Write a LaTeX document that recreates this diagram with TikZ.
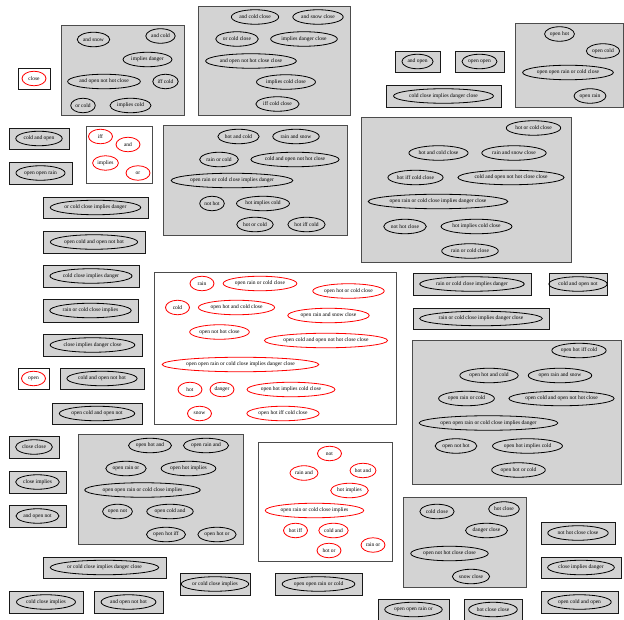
\documentclass[tikz,border=0pt]{standalone}
\usepackage{fontspec}
\setmainfont{Liberation Serif}
\usetikzlibrary{shapes.geometric}
\definecolor{clgray}{HTML}{D3D3D3}

\begin{document}
\begin{tikzpicture}[x=1pt, y=-1pt, font=\fontsize{5.5}{6}\selectfont,
  grp/.style={draw=black!70, fill=clgray, line width=0.9pt},
  wgrp/.style={draw=black!70, fill=white, line width=0.9pt},
  one/.style={draw=black!90, fill=clgray, line width=0.9pt},
  wone/.style={draw=black!90, fill=white, line width=0.9pt},
  nd/.style={ellipse, draw=black, line width=0.8pt, inner xsep=1pt, inner ysep=2pt, minimum height=14.5pt, minimum width=24pt},
  rnd/.style={nd, draw=red}]
\useasboundingbox (0,0) rectangle (624,620);

% clusters
\draw[grp] (61,25) rectangle (184,115);
\node[nd] (a1) at (93.5,39.5) {and snow};
\node[nd] (a2) at (160.5,36) {and cold};
\node[nd] (a3) at (147.5,59.5) {implies danger};
\node[nd] (a4) at (104,81.5) {and open not hot close};
\node[nd] (a5) at (165.5,81.5) {iff cold};
\node[nd] (a6) at (83,105.5) {or cold};
\node[nd] (a7) at (130.5,105.5) {implies cold};

\draw[grp] (198,6) rectangle (350,115);
\node[nd] (b1) at (255,17) {and cold close};
\node[nd] (b2) at (318,17) {and snow close};
\node[nd] (b3) at (237,39) {or cold close};
\node[nd] (b4) at (304,39) {implies danger close};
\node[nd] (b5) at (251,61) {and open not hot close close};
\node[nd] (b6) at (286,82) {implies cold close};
\node[nd] (b7) at (277.5,104) {iff cold close};

\draw[grp] (515,23) rectangle (623,107);
\node[nd] (c1) at (559.5,34) {open hot};
\node[nd] (c2) at (603,51) {open cold};
\node[nd] (c3) at (568,72.5) {open open rain or cold close};
\node[nd] (c4) at (590,96) {open rain};

\draw[wgrp] (86,126) rectangle (152,183);
\node[rnd] (d1) at (100.5,136.5) {iff};
\node[rnd] (d2) at (128,144.5) {and};
\node[rnd] (d3) at (105.5,163) {implies};
\node[rnd] (d4) at (138,173) {or};

\draw[grp] (163,125) rectangle (347,235);
\node[nd] (e1) at (238.5,136.5) {hot and cold};
\node[nd] (e2) at (296,136.5) {rain and snow};
\node[nd] (e3) at (219,159.5) {rain or cold};
\node[nd] (e4) at (295,159.5) {cold and open not hot close};
\node[nd] (e5) at (232,180.5) {open rain or cold close implies danger};
\node[nd] (e6) at (212,203.5) {not hot};
\node[nd] (e7) at (263,203.5) {hot implies cold};
\node[nd] (e8) at (255,224.5) {hot or cold};
\node[nd] (e9) at (306.5,224.5) {hot iff cold};

\draw[grp] (361,117) rectangle (571,262);
\node[nd] (f1) at (533.5,128) {hot or cold close};
\node[nd] (f2) at (438.5,153) {hot and cold close};
\node[nd] (f3) at (514,153) {rain and snow close};
\node[nd] (f4) at (415.5,177.5) {hot iff cold close};
\node[nd] (f5) at (511,177.5) {cold and open not hot close close};
\node[nd] (f6) at (438,201.5) {open rain or cold close implies danger close};
\node[nd] (f7) at (405,226.5) {not hot close};
\node[nd] (f8) at (476.5,226.5) {hot implies cold close};
\node[nd] (f9) at (470,251) {rain or cold close};

\draw[wgrp] (154,272) rectangle (396,424);
\node[rnd] (g1) at (202,283.5) {rain};
\node[rnd] (g2) at (260,283.5) {open rain or cold close};
\node[rnd] (g3) at (348.5,291) {open hot or cold close};
\node[rnd] (g4) at (177.5,307.5) {cold};
\node[rnd] (g5) at (236.5,307.5) {open hot and cold close};
\node[rnd] (g6) at (328.5,315.5) {open rain and snow close};
\node[rnd] (g7) at (219.5,332) {open not hot close};
\node[rnd] (g8) at (326,340.5) {open cold and open not hot close close};
\node[rnd] (g9) at (240.5,364.5) {open open rain or cold close implies danger close};
\node[rnd] (g10) at (190,389.5) {hot};
\node[rnd] (g11) at (222,389.5) {danger};
\node[rnd] (g12) at (291,389.5) {open hot implies cold close};
\node[rnd] (g13) at (199.5,413.5) {snow};
\node[rnd] (g14) at (283,413.5) {open hot iff cold close};

\draw[grp] (412,340) rectangle (621,484);
\node[nd] (h1) at (579,350.5) {open hot iff cold};
\node[nd] (h2) at (489,375.5) {open hot and cold};
\node[nd] (h3) at (560,375.5) {open rain and snow};
\node[nd] (h4) at (466.5,398.5) {open rain or cold};
\node[nd] (h5) at (561.5,398.5) {open cold and open not hot close};
\node[nd] (h6) at (488.5,423) {open open rain or cold close implies danger};
\node[nd] (h7) at (456,446) {open not hot};
\node[nd] (h8) at (527.5,446) {open hot implies cold};
\node[nd] (h9) at (518.5,470) {open hot or cold};

\draw[grp] (78,434) rectangle (243,544);
\node[nd] (k1) at (150,445.5) {open hot and};
\node[nd] (k2) at (206,445.5) {open rain and};
\node[nd] (k3) at (126,468.5) {open rain or};
\node[nd] (k4) at (188.5,468.5) {open hot implies};
\node[nd] (k5) at (142.5,490) {open open rain or cold close implies};
\node[nd] (k6) at (117.5,511.5) {open not};
\node[nd] (k7) at (170,511.5) {open cold and};
\node[nd] (k8) at (166,534.5) {open hot iff};
\node[nd] (k9) at (217,534.5) {open hot or};

\draw[wgrp] (258,442) rectangle (392,561);
\node[rnd] (m1) at (329.5,453.5) {not};
\node[rnd] (m2) at (304,473) {rain and};
\node[rnd] (m3) at (363,470.5) {hot and};
\node[rnd] (m4) at (349.5,490.5) {hot implies};
\node[rnd] (m5) at (314.5,510.5) {open rain or cold close implies};
\node[rnd] (m6) at (295.5,530.5) {hot iff};
\node[rnd] (m7) at (333.5,530.5) {cold and};
\node[rnd] (m8) at (329,550.5) {hot or};
\node[rnd] (m9) at (373,545) {rain or};

\draw[grp] (403,497) rectangle (526,587);
\node[nd] (p1) at (437,511.5) {cold close};
\node[nd] (p2) at (504,509) {hot close};
\node[nd] (p3) at (486.5,530.5) {danger close};
\node[nd] (p4) at (449.5,553.5) {open not hot close close};
\node[nd] (p5) at (471,576.5) {snow close};

% single boxes
\draw[wone] (18,68) rectangle (50,89);
\node[rnd] (s1) at (34,78.5) {close};
\draw[wone] (18,368) rectangle (49,389);
\node[rnd] (s2) at (33.5,378.5) {open};

\draw[one] (9,128) rectangle (69,149);
\node[nd] (t1) at (39,138.5) {cold and open};
\draw[one] (9,162) rectangle (72,184);
\node[nd] (t2) at (40.5,173) {open open rain};
\draw[one] (43,197) rectangle (148,218);
\node[nd] (t3) at (95.5,207.5) {or cold close implies danger};
\draw[one] (43,231) rectangle (145,253);
\node[nd] (t4) at (94,242) {open cold and open not hot};
\draw[one] (43,265) rectangle (139,287);
\node[nd] (t5) at (91,276) {cold close implies danger};
\draw[one] (43,299) rectangle (138,322);
\node[nd] (t6) at (90.5,310.5) {rain or cold close implies};
\draw[one] (43,334) rectangle (142,356);
\node[nd] (t7) at (92.5,345) {close implies danger close};
\draw[one] (60,368) rectangle (144,389);
\node[nd] (t8) at (102,378.5) {cold and open not hot};
\draw[one] (52,403) rectangle (142,424);
\node[nd] (t9) at (97,413.5) {open cold and open not};
\draw[one] (9,436) rectangle (59,458);
\node[nd] (t10) at (34,447) {close close};
\draw[one] (9,471) rectangle (66,493);
\node[nd] (t11) at (37.5,482) {close implies};
\draw[one] (9,505) rectangle (66,527);
\node[nd] (t12) at (37.5,516) {and open not};
\draw[one] (43,557) rectangle (166,578);
\node[nd] (t13) at (104.5,567.5) {or cold close implies danger close};
\draw[one] (180,573) rectangle (250,595);
\node[nd] (t14) at (215,584) {or cold close implies};
\draw[one] (9,591) rectangle (83,613);
\node[nd] (t15) at (46,602) {cold close implies};
\draw[one] (94,591) rectangle (163,613);
\node[nd] (t16) at (128.5,602) {and open not hot};
\draw[one] (275,573) rectangle (362,595);
\node[nd] (t17) at (318.5,584) {open open rain or cold};
\draw[one] (378,599) rectangle (449,620);
\node[nd] (t18) at (413.5,609.5) {open open rain or};
\draw[one] (464,599) rectangle (522,620);
\node[nd] (t19) at (493,609.5) {hot close close};
\draw[one] (541,522) rectangle (615,544);
\node[nd] (t20) at (578,533) {not hot close close};
\draw[one] (541,557) rectangle (621,578);
\node[nd] (t21) at (581,567.5) {close implies danger};
\draw[one] (541,591) rectangle (618,613);
\node[nd] (t22) at (579.5,602) {open cold and open};
\draw[one] (413,273) rectangle (531,295);
\node[nd] (t23) at (472,284) {rain or cold close implies danger};
\draw[one] (549,273) rectangle (607,295);
\node[nd] (t24) at (578,284) {cold and open not};
\draw[one] (413,308) rectangle (549,329);
\node[nd] (t25) at (481,318.5) {rain or cold close implies danger close};
\draw[one] (395,51) rectangle (440,72);
\node[nd] (t26) at (417.5,61.5) {and open};
\draw[one] (455,51) rectangle (504,72);
\node[nd] (t27) at (479.5,61.5) {open open};
\draw[one] (386,85) rectangle (501,107);
\node[nd] (t28) at (443.5,96) {cold close implies danger close};
\end{tikzpicture}
\end{document}
